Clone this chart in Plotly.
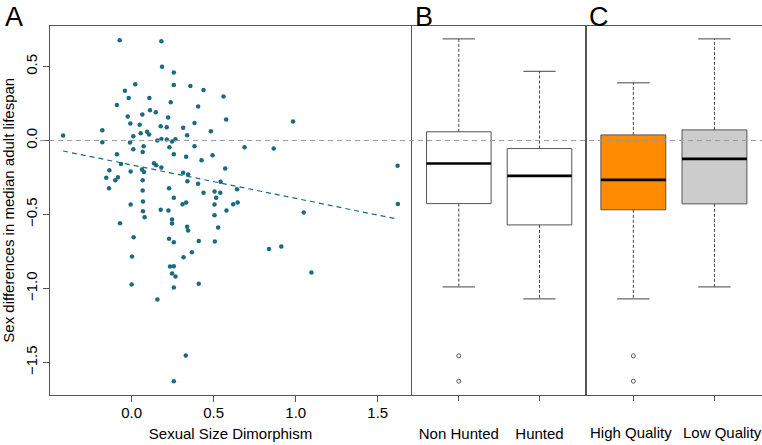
import plotly.graph_objects as go

# ---------------- data ----------------
ssd = [-0.418, -0.073, 0.181, 0.185, 0.257, 0.022, 0.257, 0.358, -0.041, 0.438,
       -0.018, 0.108, 0.238, -0.090, 0.405, 0.560, 0.112, 0.147, -0.024, 0.065,
       0.222, 0.576, 0.984, -0.008, 0.049, 0.383, 0.314, 0.177, 0.214, -0.179,
       0.094, 0.055, 0.106, 0.483, 0.338, 0.010, 0.181, 0.157, 0.214, 0.267,
       -0.179, -0.010, 0.246, 0.073, 0.230, 0.383, 0.688, 0.866, 0.010, 0.067,
       -0.090, 0.257, 0.493, 0.332, 0.426, 0.136, -0.065, 0.149, 0.181, 0.570,
       1.621, 0.063, -0.136, -0.006, 0.075, 0.314, 0.344, -0.155, -0.084, -0.100,
       0.067, 0.340, 0.542, 0.405, -0.138, 0.228, 0.642, 0.067, 0.438, 0.505,
       0.540, 0.257, 0.515,
       -0.006, 0.069, 0.310, 0.332, 0.505, 0.619, 0.646, 1.623, 0.069, 0.177,
       0.224, 0.505, 0.578, 1.049, 0.079, -0.071, 0.246, 0.246, 0.338, 0.344,
       0.527, 0.012, 0.228, 0.257, 0.409, 0.507, 0.837, 0.912, 0.367, 0.002,
       0.316, 0.234, 0.257, 0.246, 0.267, 1.096, 0.000, 0.409, 0.257, 0.157,
       0.330, 0.257]
lifespan_diff = [0.034, 0.678, 0.671, 0.498, 0.459, 0.381, 0.376, 0.369, 0.336, 0.342,
                 0.288, 0.288, 0.259, 0.241, 0.230, 0.297, 0.205, 0.191, 0.162, 0.176,
                 0.155, 0.142, 0.128, 0.115, 0.106, 0.119, 0.086, 0.097, 0.090, 0.069,
                 0.059, 0.050, 0.041, 0.063, 0.036, 0.029, 0.011, 0.000, 0.007, 0.009,
                 -0.011, -0.014, -0.007, -0.038, -0.045, -0.038, -0.045, -0.054, -0.059, -0.077,
                 -0.092, -0.092, -0.099, -0.110, -0.133, -0.153, -0.158, -0.167, -0.182, -0.189,
                 -0.171, -0.196, -0.200, -0.209, -0.212, -0.218, -0.229, -0.252, -0.248, -0.268,
                 -0.268, -0.275, -0.279, -0.292, -0.322, -0.323, -0.329, -0.338, -0.353, -0.345,
                 -0.353, -0.387, -0.387,
                 -0.432, -0.412, -0.430, -0.419, -0.432, -0.430, -0.419, -0.428, -0.477, -0.468,
                 -0.473, -0.505, -0.473, -0.486, -0.518, -0.559, -0.534, -0.561, -0.583, -0.608,
                 -0.588, -0.653, -0.664, -0.687, -0.678, -0.682, -0.732, -0.716, -0.755, -0.784,
                 -0.788, -0.851, -0.850, -0.899, -0.919, -0.892, -0.973, -0.968, -0.993, -1.074,
                 -1.453, -1.626]

fit_intercept = -0.165
fit_slope = -0.2257

# boxplot summaries (panel B: hunting, panel C: data quality)
hunt_labels = ["Non Hunted", "Hunted"]
hunt_lower = [-0.989, -1.070]
hunt_q1 = [-0.426, -0.570]
hunt_median = [-0.155, -0.239]
hunt_q3 = [0.059, -0.054]
hunt_upper = [0.687, 0.468]
hunt_outliers = [[-1.455, -1.626], []]
hunt_fill = ["white", "white"]

qual_labels = ["High Quality", "Low Quality"]
qual_lower = [-1.070, -0.989]
qual_q1 = [-0.468, -0.428]
qual_median = [-0.266, -0.124]
qual_q3 = [0.038, 0.072]
qual_upper = [0.390, 0.687]
qual_outliers = [[-1.455, -1.626], []]
qual_fill = ["#FF8C00", "#CCCCCC"]

x_ticks = [0.0, 0.5, 1.0, 1.5]
y_ticks = [-1.5, -1.0, -0.5, 0.0, 0.5]

# ---------------- layout helpers ----------------
W, H = 762, 445
FONT = "Liberation Sans, Arial, sans-serif"
FS = 15
PT = "#1a6a82"
y_range = [-1.716, 0.774]

fig = go.Figure()

# panel A scatter
fig.add_trace(go.Scatter(x=ssd, y=lifespan_diff, mode="markers",
                         marker=dict(color=PT, size=4.5, line=dict(width=0)),
                         xaxis="x", yaxis="y", showlegend=False, hoverinfo="x+y"))
xl = [min(ssd), max(ssd)]
fig.add_trace(go.Scatter(x=xl, y=[fit_intercept + fit_slope * v for v in xl], mode="lines",
                         line=dict(color=PT, width=1.2, dash="5px,4px"),
                         xaxis="x", yaxis="y", showlegend=False, hoverinfo="skip"))


def add_boxes(xa, ya, lower, q1, med, q3, upper, outl, fills):
    for i in range(len(med)):
        p = i + 1
        fig.add_trace(go.Scatter(x=[p - 0.4, p + 0.4, p + 0.4, p - 0.4, p - 0.4],
                                 y=[q1[i], q1[i], q3[i], q3[i], q1[i]],
                                 mode="lines", fill="toself", fillcolor=fills[i],
                                 line=dict(color="#555555", width=1),
                                 xaxis=xa, yaxis=ya, showlegend=False, hoverinfo="skip"))
        fig.add_trace(go.Scatter(x=[p - 0.4, p + 0.4], y=[med[i], med[i]], mode="lines",
                                 line=dict(color="black", width=2.6),
                                 xaxis=xa, yaxis=ya, showlegend=False, hoverinfo="skip"))
        for a, b in ((q3[i], upper[i]), (q1[i], lower[i])):
            fig.add_trace(go.Scatter(x=[p, p], y=[a, b], mode="lines",
                                     line=dict(color="#444444", width=1, dash="3px,2px"),
                                     xaxis=xa, yaxis=ya, showlegend=False, hoverinfo="skip"))
            fig.add_trace(go.Scatter(x=[p - 0.2, p + 0.2], y=[b, b], mode="lines",
                                     line=dict(color="#444444", width=1),
                                     xaxis=xa, yaxis=ya, showlegend=False, hoverinfo="skip"))
        if outl[i]:
            fig.add_trace(go.Scatter(x=[p] * len(outl[i]), y=outl[i], mode="markers",
                                     marker=dict(symbol="circle-open", size=4,
                                                 color="#555555", line=dict(width=1)),
                                     xaxis=xa, yaxis=ya, showlegend=False))


add_boxes("x2", "y2", hunt_lower, hunt_q1, hunt_median, hunt_q3, hunt_upper, hunt_outliers, hunt_fill)
add_boxes("x3", "y3", qual_lower, qual_q1, qual_median, qual_q3, qual_upper, qual_outliers, qual_fill)

ydom = [1 - 394.5 / H, 1 - 26 / H]
frame = dict(showline=True, linecolor="#555555", linewidth=1, mirror=True,
             showgrid=False, zeroline=False)
tickfont = dict(family=FONT, size=FS, color="black")

fig.update_layout(
    width=W, height=H, margin=dict(l=0, r=0, t=0, b=0),
    paper_bgcolor="white", plot_bgcolor="white",
    font=dict(family=FONT, size=FS, color="black"),
    xaxis=dict(domain=[50.3 / W, 410.7 / W], range=[-0.496, 1.701], tickvals=x_ticks,
               ticktext=[f"{v:.1f}" for v in x_ticks], ticks="outside", ticklen=6,
               tickcolor="#555555", tickfont=tickfont, anchor="y", tickangle=0,
               ticklabelstandoff=-2,
               title=dict(text="Sexual Size Dimorphism", font=tickfont, standoff=8),
               automargin=False, **frame),
    yaxis=dict(domain=ydom, range=y_range, tickvals=y_ticks,
               ticktext=[f"{v:.1f}".replace("-", "\u2212") for v in y_ticks],
               ticks="outside", ticklen=6, tickcolor="#555555", tickangle=-90,
               tickfont=tickfont, anchor="x",
               title=dict(text="Sex differences in median adult lifespan", font=tickfont,
                          standoff=5),
               automargin=False, **frame),
    xaxis2=dict(domain=[412 / W, 586.3 / W], range=[0.42, 2.58], tickvals=[1, 2],
                ticktext=hunt_labels, ticks="outside", ticklen=5, tickcolor="#555555",
                tickfont=tickfont, ticklabelstandoff=20, tickangle=0, anchor="y2",
                automargin=False, **frame),
    yaxis2=dict(domain=ydom, range=y_range, showticklabels=False, ticks="",
                anchor="x2", matches="y", automargin=False, **frame),
    xaxis3=dict(domain=[586.3 / W, 761.5 / W], range=[0.42, 2.58], tickvals=[1, 2],
                ticktext=["", ""], ticks="outside", ticklen=5, tickcolor="#555555",
                tickfont=tickfont, anchor="y3", automargin=False, **frame),
    yaxis3=dict(domain=ydom, range=y_range, showticklabels=False, ticks="",
                anchor="x3", matches="y", automargin=False, **frame),
)

# panel C category labels (placed as in the reference, slightly spread apart)
for lab, xpos in zip(qual_labels, (0.968, 2.095)):
    fig.add_annotation(text=lab, xref="x3", yref="paper", x=xpos, y=1 - 432 / H,
                       xanchor="center", yanchor="middle", showarrow=False,
                       font=tickfont)

# zero reference line across all panels
fig.add_shape(type="line", xref="paper", yref="y", x0=40 / W, x1=1, y0=0, y1=0,
              line=dict(color="#999999", width=1, dash="5px,4px"), layer="above")

for letter, px in (("A", 3), ("B", 413), ("C", 587)):
    fig.add_annotation(text=letter, xref="paper", yref="paper", x=px / W, y=1,
                       xanchor="left", yanchor="top", showarrow=False,
                       font=dict(family=FONT, size=27, color="black"))

fig.write_html("out.html", config={"displayModeBar": False},
               post_script="document.body.style.margin='0';document.body.style.overflow='hidden';")
